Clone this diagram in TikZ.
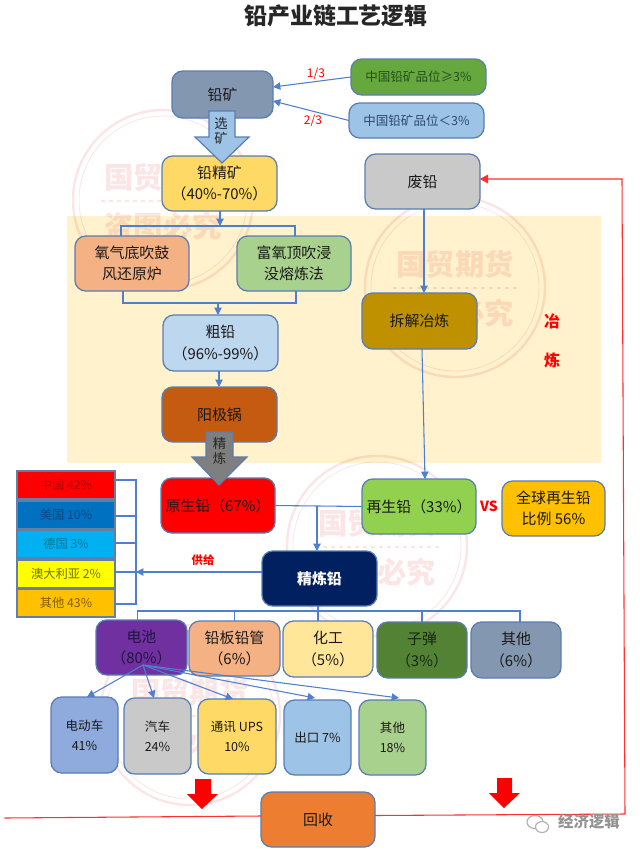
\documentclass[tikz,border=0pt]{standalone}
\usepackage{fontspec}
\setmainfont{Noto Sans CJK SC}
\usetikzlibrary{arrows.meta,calc}
\definecolor{edgeblue}{HTML}{5A7DB2}
\definecolor{linkblue}{HTML}{4F7FCF}
\definecolor{redline}{HTML}{FF3030}
\definecolor{band}{HTML}{FFF2CC}
\definecolor{slate}{HTML}{8497B0}
\definecolor{grassa}{HTML}{66A83E}
\definecolor{grassatx}{HTML}{24501A}
\definecolor{skyb}{HTML}{9DC3E6}
\definecolor{skybtx}{HTML}{2A4A70}
\definecolor{gold}{HTML}{FFD966}
\definecolor{greyb}{HTML}{C9C9C9}
\definecolor{salmon}{HTML}{F4B183}
\definecolor{leaf}{HTML}{A9D18E}
\definecolor{ochre}{HTML}{BF9000}
\definecolor{palesky}{HTML}{BDD7EE}
\definecolor{rust}{HTML}{C55A11}
\definecolor{lime}{HTML}{92D050}
\definecolor{amber}{HTML}{FFC000}
\definecolor{navy}{HTML}{002060}
\definecolor{redfill}{HTML}{FF0000}
\definecolor{redtx}{HTML}{B00000}
\definecolor{blueb}{HTML}{0070C0}
\definecolor{bluetx}{HTML}{0B4A80}
\definecolor{cyanb}{HTML}{00B0F0}
\definecolor{cyantx}{HTML}{00789E}
\definecolor{yellowb}{HTML}{FFFF00}
\definecolor{yellowtx}{HTML}{707000}
\definecolor{ambertx}{HTML}{7A5C00}
\definecolor{purpleb}{HTML}{7030A0}
\definecolor{purpletx}{HTML}{1F1540}
\definecolor{cream}{HTML}{FFE699}
\definecolor{forest}{HTML}{548235}
\definecolor{foresttx}{HTML}{142810}
\definecolor{periw}{HTML}{8FAADC}
\definecolor{orangeb}{HTML}{ED7D31}
\definecolor{arrowgrey}{HTML}{7F7F7F}
\tikzset{
  boxnode/.style={draw=edgeblue,line width=0.95pt,rounded corners=8pt,inner sep=0pt,outer sep=0pt,align=center,text=black!90,font=\fontsize{11.2}{16}\selectfont},
  listbox/.style={boxnode,rounded corners=0pt,draw=edgeblue!70!gray,font=\fontsize{9.2}{11}\selectfont},
  smallbox/.style={boxnode,font=\fontsize{9.4}{15}\selectfont},
  gradebox/.style={boxnode,font=\fontsize{9.4}{11}\selectfont},
  link/.style={draw=linkblue,line width=0.8pt},
  linkarrow/.style={link,-{Triangle[length=5.5pt,width=5.5pt]}},
  recycle/.style={draw=redline,line width=0.8pt},
  redlabel/.style={text=red,font=\fontsize{9}{11}\selectfont,inner sep=0pt},
  blockarrow/.style={draw=edgeblue,line width=0.9pt,line join=miter},
  mark text/.style={text=#1,inner sep=0pt,align=center,font=\fontsize{10}{11.25}\selectfont},
  stamp/.style={text=red!85!black,font=\bfseries\fontsize{22}{26}\selectfont,inner sep=0pt},
  stampring/.style={draw=red!85!black},
}
\newcommand{\bx}[7]{%
  \pgfmathsetmacro\bw{(#4-#2)*0.75}\pgfmathsetmacro\bh{(#5-#3)*0.75}%
  \node[#6,minimum width=\bw pt,minimum height=\bh pt] (#1) at ({(#2+#4)/2},{(#3+#5)/2}) {#7};}
\newcommand{\wmark}[3]{%
  \begin{scope}[opacity=0.10]
    \node[circle,stampring,line width=1.8pt,minimum size=135pt,inner sep=0pt] (#1) at (#2,#3) {};
    \node[circle,stampring,line width=0.6pt,minimum size=126pt,inner sep=0pt] (#1i) at (#2,#3) {};
    \node[stamp] (#1a) at (#2,#3-23) {国贸期货};
    \node[stamp] (#1b) at (#2,#3+26) {盗图必究};
    \draw[stampring,dashed,line width=0.8pt] ($(#1.center)+(-62,1)$) -- ($(#1.center)+(62,1)$);
  \end{scope}}
\begin{document}
\begin{tikzpicture}[x=0.75pt,y=-0.75pt]
\useasboundingbox (0,0) rectangle (640,851);
\fill[white] (0,0) rectangle (640,851);
% smelting band
\fill[band] (67,216) rectangle (601,463);
% watermarks
\wmark{wa}{163}{200}
\wmark{wb}{455}{287}
\wmark{wc}{377}{546}
\wmark{wd}{190}{715}
% title
\node[inner sep=0pt,text=black!85,font=\bfseries\fontsize{17.2}{20}\selectfont] (title) at (336,16) {铅产业链工艺逻辑};
% top part
\bx{ore}{172}{71}{273}{118}{boxnode,fill=slate}{\raisebox{-2.5pt}{铅矿}}
\bx{gradeA}{351}{59}{486}{95}{gradebox,fill=grassa,text=grassatx}{中国铅矿品位≥3\%}
\bx{gradeB}{349}{103}{484}{138}{gradebox,fill=skyb,text=skybtx}{中国铅矿品位＜3\%}
\bx{conc}{162}{156}{277}{211}{boxnode,fill=gold}{铅精矿\\（40\%-70\%）}
\bx{scrap}{365}{154}{480}{209}{boxnode,fill=greyb}{废铅}
\bx{oxy}{75}{236}{189}{291}{boxnode,fill=salmon}{氧气底吹鼓\\风还原炉}
\bx{rich}{237}{236}{351}{291}{boxnode,fill=leaf}{富氧顶吹浸\\没熔炼法}
\bx{dis}{362}{293}{477}{349}{boxnode,fill=ochre}{拆解冶炼}
\bx{crude}{163}{315}{278}{371}{boxnode,fill=palesky}{粗铅\\（96\%-99\%）}
\bx{anode}{162}{387}{277}{442}{boxnode,fill=rust}{阳极锅}
\bx{prim}{161}{478}{275}{533}{boxnode,fill=redfill}{\raisebox{-1.5pt}{原生铅（67\%）}}
\bx{second}{362}{479}{476}{534}{boxnode,fill=lime}{再生铅（33\%）}
\bx{globe}{502}{481}{605}{536}{boxnode,fill=amber}{全球再生铅\\比例 56\%}
\bx{refined}{262}{551}{377}{606}{boxnode,fill=navy,text=white}{\bfseries 精炼铅}
% country list
\bx{cn}{17}{471}{115}{499}{listbox,fill=redfill,text=redtx}{中国 42\%}
\bx{us}{17}{501}{115}{529}{listbox,fill=blueb,text=bluetx}{美国 10\%}
\bx{de}{17}{530}{115}{558}{listbox,fill=cyanb,text=cyantx}{德国 3\%}
\bx{au}{17}{560}{115}{588}{listbox,fill=yellowb,text=yellowtx}{澳大利亚 2\%}
\bx{ot}{17}{589}{115}{617}{listbox,fill=amber,text=ambertx}{其他 43\%}
% uses
\bx{bat}{96}{620}{187}{675}{boxnode,fill=purpleb,text=purpletx}{电池\\（80\%）}
\bx{pipe}{189}{621}{280}{676}{boxnode,fill=salmon}{铅板铅管\\（6\%）}
\bx{chem}{283}{621}{373}{677}{boxnode,fill=cream}{化工\\（5\%）}
\bx{bul}{377}{622}{467}{678}{boxnode,fill=forest,text=foresttx}{子弹\\（3\%）}
\bx{oth}{471}{622}{561}{678}{boxnode,fill=slate}{其他\\（6\%）}
% battery uses
\bx{ev}{51}{697}{118}{773}{smallbox,fill=periw}{电动车\\41\%}
\bx{car}{124}{698}{191}{774}{smallbox,fill=greyb}{汽车\\24\%}
\bx{ups}{198}{699}{276}{774}{smallbox,fill=gold}{通讯 UPS\\10\%}
\bx{exp}{284}{700}{351}{775}{smallbox,fill=skyb}{出口 7\%}
\bx{oth2}{359}{700}{426}{775}{smallbox,fill=leaf}{其他\\18\%}
\bx{rec}{261}{792}{375}{847}{boxnode,fill=orangeb}{回收}
% connectors: ore
\draw[linkarrow] (gradeA.west) -- ($(ore.east)+(0,-7.5)$);
\draw[linkarrow] (gradeB.west) -- ($(ore.east)+(0,6.5)$);
\node[redlabel] (l13) at (316,74) {1/3};
\node[redlabel] (l23) at (313,121) {2/3};
% concentrate to furnaces
\coordinate (busA) at (220,226);
\coordinate (busB) at (218,303);
\draw[linkarrow] ($(conc.south)+(0.5,0)$) -- (busA);
\draw[link] ($(oxy.north)+(-11,0)$) |- (busA) -| ($(rich.north)+(1,0)$);
\draw[link] ($(oxy.south)+(-9,0)$) |- (busB) -| ($(rich.south)+(2,0)$);
\draw[linkarrow] (busB) -- (busB|-crude.north);
\draw[linkarrow] ($(crude.south)+(-1.5,0)$) -- ($(anode.north)+(-0.5,0)$);
\draw[linkarrow] ($(scrap.south)+(1.5,0)$) -- ($(dis.north)+(4.5,0)$);
\draw[linkarrow] ($(dis.south)+(2.5,0)$) -- ($(second.north)+(6,0)$);
% block arrows
\draw[blockarrow,fill=skyb] (209,111) -- (235,111) -- (235,137) -- (249,137) -- (222,163) -- (195,137) -- (209,137) -- cycle;
\node[mark text=black!85] (sel) at (221,131) {选\\矿};
\draw[blockarrow,fill=arrowgrey] (206,432) -- (233,432) -- (233,457) -- (247,457) -- (219,485) -- (192,457) -- (206,457) -- cycle;
\node[mark text=black!85] (ref) at (219.5,451) {精\\炼};
% refined lead
\coordinate (busC) at (317,506);
\draw[link] (prim.east) -- (second.west);
\draw[linkarrow] (busC) -- (busC|-refined.north);
\coordinate (busD) at (136,572);
\draw[linkarrow] ($(refined.west)+(0,-6.5)$) -- (busD);
\draw[link] ($(cn.east)+(0,-5)$) -| (busD);
\draw[link] ($(us.east)+(0,1)$) -| (busD);
\draw[link] ($(de.east)+(0,-1)$) -| (busD);
\draw[link] ($(au.east)+(0,-2)$) -| (busD);
\draw[link] ($(ot.east)+(0,1)$) -| (busD);
\node[redlabel,font=\bfseries\fontsize{8.5}{10}\selectfont] (supply) at (203,560) {供给};
\node[redlabel,font=\bfseries\fontsize{10.5}{12}\selectfont] (vs) at (489,506) {VS};
\node[redlabel,font=\bfseries\fontsize{12}{14}\selectfont] (ye) at (552,321) {冶};
\node[redlabel,font=\bfseries\fontsize{12}{14}\selectfont] (lian) at (552,360) {炼};
% uses bus
\coordinate (busE) at (318,611);
\draw[link] ($(refined.south)+(-1.5,0)$) -- (busE);
\draw[link] ($(bat.north)+(-4,0)$) |- (busE) -| ($(oth.north)+(4,0)$);
\draw[link] (pipe.north) -- (pipe.north|-busE);
\draw[link] (chem.north-|busE) -- (busE);
\draw[link] (bul.north) -- (bul.north|-busE);
% battery fan-out
\coordinate (fan) at (143,665);
\draw[linkarrow] (fan) -- ($(ev.north)+(2.5,0)$);
\draw[linkarrow] (fan) -- ($(car.north)+(-3.5,0)$);
\draw[linkarrow] (fan) -- ($(ups.north)+(-4,0)$);
\draw[linkarrow] (fan) -- ($(exp.north)+(-2.5,-2)$);
\draw[linkarrow] (fan) -- ($(oth2.north)+(6.5,-2)$);
% recycling
\draw[recycle] (4.5,818) -- ($(rec.west)+(0,-3.5)$);
\coordinate (cornerA) at (625,814);
\coordinate (cornerB) at (622,179);
\draw[recycle,-{Triangle[length=6pt,width=6.5pt]}] ($(rec.east)+(0,-4)$) -- (cornerA) -- (cornerB) -- (scrap.east|-cornerB);
\fill[red] (195,779) -- (211,779) -- (211,794) -- (218,794) -- (202,809) -- (187,794) -- (195,794) -- cycle;
\fill[red] (497,778) -- (512,778) -- (512,793) -- (520,793) -- (504,808) -- (489,793) -- (497,793) -- cycle;
% wechat mark
\begin{scope}[draw=gray!60,line width=0.9pt]
  \draw (535,822) ellipse [x radius=8,y radius=6.5];
  \draw[fill=white] (542,827) ellipse [x radius=6.5,y radius=5.5];
\end{scope}
\node[inner sep=0pt,text=gray!85,font=\bfseries\fontsize{11.6}{14}\selectfont] (wx) at (589,822) {经济逻辑};
\end{tikzpicture}
\end{document}
